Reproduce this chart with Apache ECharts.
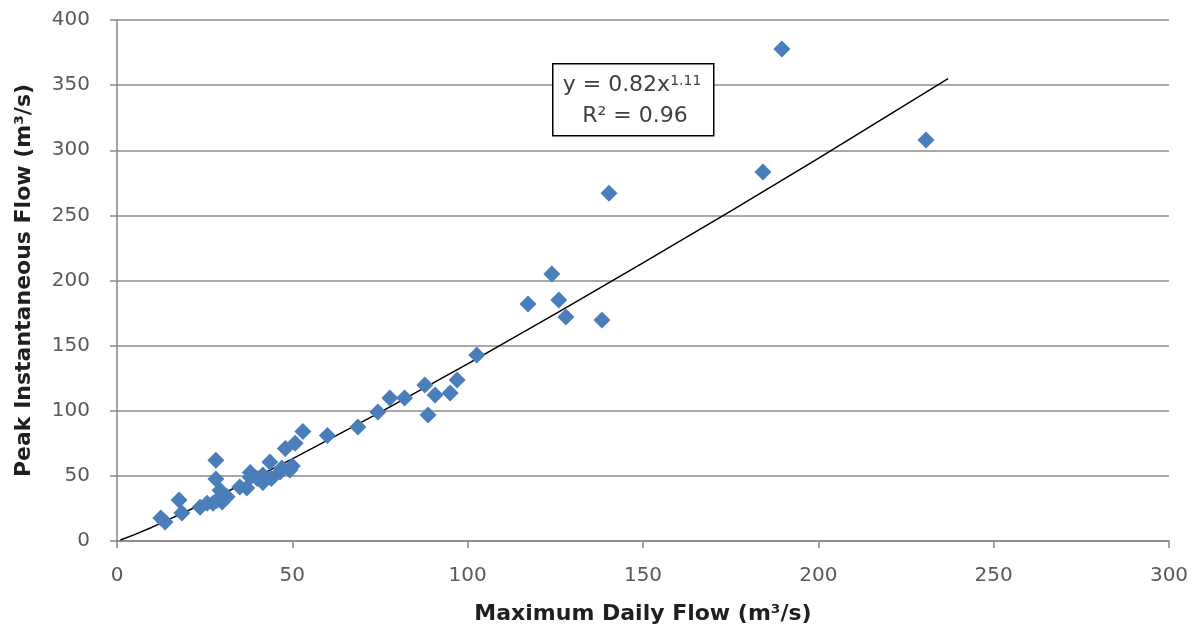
<!DOCTYPE html>
<html>
<head>
<meta charset="utf-8">
<script src="https://cdn.jsdelivr.net/npm/echarts@6/dist/echarts.min.js"></script>
<style>
html,body{margin:0;padding:0;background:#fff;}
#chart{width:1197px;height:631px;}
</style>
</head>
<body>
<div id="chart"></div>
<script>
// Observed points: Maximum Daily Flow (x) vs Peak Instantaneous Flow (y), m3/s
const maxDailyFlow = [12.5, 13.7, 17.7, 18.5, 23.7, 25.7, 28.2, 28.2, 28.5, 27.4, 30, 31.4, 29.4, 35, 37, 38, 38, 40, 41.6, 41.6, 43.6, 44, 46.5, 47, 48, 49.3, 50, 50.8, 53, 60, 68.7, 74.4, 77.8, 82, 87.8, 88.7, 90.7, 95, 97, 102.6, 117.2, 124, 126, 128, 138.3, 140.3, 184.2, 189.6, 230.7];
const peakInstFlow = [17.7, 14.6, 31.5, 21.5, 26, 29, 62, 47.6, 31, 29, 30, 34, 39, 41.5, 40.7, 49, 52.5, 48, 45, 50.7, 60.6, 48, 53, 56, 71, 54.5, 57.6, 75, 84, 81, 87.5, 99, 109.8, 109.8, 119.8, 96.7, 112, 113.6, 123.6, 142.8, 182, 205, 185, 172, 169.7, 267, 283.3, 377.7, 307.9];

// Power trend line y = 0.82x^1.11
const trendX = [1, 5, 10, 25, 50, 75, 100, 125, 150, 175, 200, 237];
const trendY = [0.8, 4.9, 10.6, 29.2, 63, 98.8, 136, 174.4, 213.6, 253.3, 293.8, 355];

const xTicks = [0, 50, 100, 150, 200, 250, 300];
const yTicks = [0, 50, 100, 150, 200, 250, 300, 350, 400];

const xTitle = 'Maximum Daily Flow (m³/s)';
const yTitle = 'Peak Instantaneous Flow (m³/s)';
const eqMain = 'y = 0.82x';
const eqExp = '1.11';
const r2Text = 'R² = 0.96';

const points = maxDailyFlow.map((x, i) => [x, peakInstFlow[i]]);
const trend = trendX.map((x, i) => [x, trendY[i]]);

const chart = echarts.init(document.getElementById('chart'), null, {renderer: 'canvas'});
const font = '"DejaVu Sans", sans-serif';
chart.setOption({
  animation: false,
  backgroundColor: '#ffffff',
  grid: {left: 117, right: 28, top: 20, bottom: 90},
  xAxis: {
    type: 'value', min: xTicks[0], max: xTicks[xTicks.length - 1], interval: 50,
    name: xTitle, nameLocation: 'middle', nameGap: 62,
    nameTextStyle: {fontFamily: font, fontWeight: 'bold', fontSize: 22, color: '#1f1f1f'},
    axisLine: {lineStyle: {color: '#868686', width: 1.5}},
    axisTick: {show: true, length: 7, lineStyle: {color: '#868686', width: 1.5}},
    axisLabel: {fontFamily: font, fontSize: 20, color: '#595959', margin: 25},
    splitLine: {show: false}
  },
  yAxis: {
    type: 'value', min: yTicks[0], max: yTicks[yTicks.length - 1], interval: 50,
    name: yTitle, nameLocation: 'middle', nameGap: 82, nameRotate: 90,
    nameTextStyle: {fontFamily: font, fontWeight: 'bold', fontSize: 22, color: '#1f1f1f'},
    axisLine: {show: true, lineStyle: {color: '#868686', width: 1.5}},
    axisTick: {show: true, length: 7, lineStyle: {color: '#868686', width: 1.5}},
    axisLabel: {fontFamily: font, fontSize: 20, color: '#595959', margin: 27},
    splitLine: {show: true, lineStyle: {color: '#8c8c8c', width: 1.5}}
  },
  series: [
    {
      type: 'line', data: trend, showSymbol: false, symbol: 'none', smooth: false,
      lineStyle: {color: '#000000', width: 1.5}, z: 3, silent: true
    },
    {
      type: 'scatter', data: points, symbol: 'diamond', symbolSize: 17,
      itemStyle: {color: '#4a7ebb', opacity: 1}, z: 4
    }
  ],
  graphic: [
    {
      type: 'rect', left: 552, top: 63, z: 100,
      shape: {width: 161, height: 72},
      style: {fill: '#ffffff', stroke: '#000000', lineWidth: 1.5}
    },
    {
      type: 'text', x: 632, y: 74, z: 101,
      style: {
        text: '{m|' + eqMain + '}{s|' + eqExp + '}',
        align: 'center',
        rich: {
          m: {fontFamily: font, fontSize: 22, fill: '#404040', color: '#404040'},
          s: {fontFamily: font, fontSize: 14, fill: '#404040', color: '#404040', verticalAlign: 'top', padding: [0, 0, 9, 0]}
        }
      }
    },
    {
      type: 'text', x: 635, y: 105, z: 101,
      style: {text: r2Text, align: 'center', fontFamily: font, fontSize: 22, fill: '#404040'}
    }
  ]
});
</script>
</body>
</html>
